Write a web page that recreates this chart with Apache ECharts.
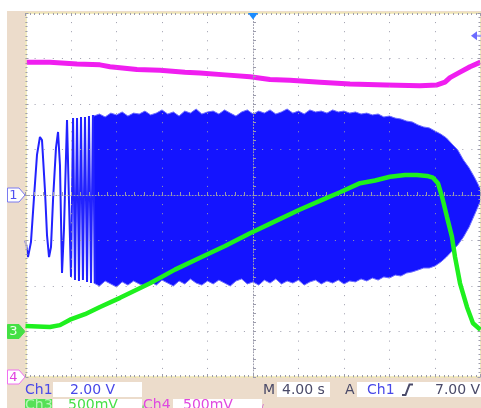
<!DOCTYPE html>
<html><head><meta charset="utf-8">
<script src="https://cdn.jsdelivr.net/npm/echarts@6/dist/echarts.min.js"></script>
<style>html,body{margin:0;padding:0;background:#fff}#c{width:481px;height:408px}</style>
</head><body><div id="c"></div>
<script>
// ---- scope settings (per division) ----
const timeScale = 4.0;            // s/div
const ch1Scale = 2.0, ch3Scale = 0.5, ch4Scale = 0.5;   // V/div
const ch1Ground = 0, ch3Ground = -3, ch4Ground = -4;    // divisions from centre
const triggerLevel = 7.0;         // V on Ch1

// ---- Ch1: resolved low-frequency start of the sweep (s, V) ----
const ch1EarlyT = [-20.0,-19.78,-19.52,-19.25,-18.99,-18.73,-18.55,-18.29,-18.11,-17.93,-17.76,-17.58,-17.32,-17.14,-16.97,-16.79,-16.62,-16.35,-16.18,-16.00,-15.82,-15.65,-15.47,-15.30,-15.12,-14.95,-14.77,-14.59,-14.42,-14.24,-14.07,-13.89];
const ch1EarlyV = [-2.0,-2.73,-2.07,-0.09,1.76,2.55,2.42,0.22,-1.76,-2.73,-2.29,-0.22,2.07,2.77,1.32,-3.43,-1.54,3.30,-0.22,-3.60,3.38,-3.74,3.38,-3.78,3.43,-3.74,3.43,-3.82,3.47,-3.87,3.52,-3.87];

// ---- Ch1: dense part, upper / lower envelope (s, V) ----
const ch1EnvT = [-14,-13.5,-13,-12.5,-12,-11.5,-11,-10.5,-10,-9.5,-9,-8.5,-8,-7.5,-7,-6.5,-6,-5.5,-5,-4.5,-4,-3.5,-3,-2.5,-2,-1.5,-1,-0.5,0,0.5,1,1.5,2,2.5,3,3.5,4,4.5,5,5.5,6,6.5,7,7.5,8,8.5,9,9.5,10,10.5,11,11.5,12,12.5,13,13.5,14,14.5,15,15.5,16,16.5,17,17.5,18,18.5,19,19.5,20];
const ch1UpperV = [3.47,3.56,3.43,3.60,3.52,3.65,3.47,3.60,3.56,3.69,
  3.52,3.60,3.74,3.56,3.65,3.47,3.69,3.60,3.78,3.56,
  3.65,3.69,3.56,3.74,3.60,3.47,3.65,3.74,3.56,3.69,
  3.60,3.74,3.56,3.65,3.78,3.60,3.69,3.56,3.74,3.65,
  3.69,3.60,3.74,3.65,3.69,3.60,3.65,3.56,3.60,3.52,
  3.56,3.43,3.47,3.38,3.34,3.25,3.21,3.08,2.99,2.95,
  2.81,2.68,2.51,2.24,1.98,1.54,1.19,0.75,0.26];
const ch1LowerV = [-3.87,-4.00,-3.78,-3.91,-4.04,-3.82,-3.96,-3.78,-3.91,-4.00,
  -3.82,-3.96,-3.74,-3.87,-4.00,-3.78,-3.91,-3.69,-3.87,-3.96,
  -3.78,-3.91,-3.74,-3.87,-4.00,-3.78,-3.69,-3.91,-3.82,-3.96,
  -3.74,-3.87,-3.69,-3.91,-3.78,-3.87,-3.74,-3.96,-3.82,-3.74,
  -3.91,-3.78,-3.87,-3.74,-3.91,-3.78,-3.82,-3.69,-3.78,-3.65,
  -3.74,-3.60,-3.65,-3.52,-3.56,-3.43,-3.38,-3.30,-3.21,-3.21,
  -3.12,-2.95,-2.73,-2.46,-2.20,-1.85,-1.41,-0.84,-0.26];

// ---- Ch3 (s, V) ----
const ch3T = [-20.0,-17.85,-16.97,-16.09,-14.77,-13.45,-11.69,-9.05,-6.86,-4.66,-2.46,-0.26,1.93,4.13,6.33,7.65,9.41,10.73,12.04,13.36,14.42,15.30,15.82,16.26,16.62,17.05,17.49,17.76,18.20,18.81,19.34,20.0];
const ch3V = [0.06,0.05,0.07,0.13,0.19,0.27,0.37,0.53,0.68,0.81,0.94,1.08,1.21,1.34,1.46,1.53,1.63,1.66,1.70,1.72,1.72,1.71,1.69,1.63,1.48,1.26,1.04,0.82,0.53,0.27,0.09,0.02];

// ---- Ch4 (s, V) ----
const ch4T = [-20.0,-17.85,-15.47,-13.45,-12.57,-10.20,-8.18,-5.98,-4.66,-2.46,-0.26,1.49,3.25,5.89,8.53,11.70,14.68,16.18,16.88,17.32,18.20,19.08,20.0];
const ch4V = [3.46,3.46,3.44,3.43,3.41,3.38,3.37,3.35,3.34,3.32,3.30,3.27,3.26,3.24,3.22,3.21,3.20,3.21,3.24,3.29,3.35,3.41,3.46];

// ---- readout texts ----
const readCh1 = ['Ch1', '2.00 V'];
const readTime = ['M', '4.00 s'];
const readTrig = ['A', 'Ch1', '7.00 V'];
const readCh3 = ['Ch3', '500mV'];
const readCh4 = ['Ch4', '500mV'];

const chart = echarts.init(document.getElementById('c'), null, {renderer:'canvas'});
const G = '#9c9cac', BORDER = '#efe6b2';
const ax = {type:'value', min:-20, max:20, interval:timeScale, axisLabel:{show:false}, splitLine:{show:false}};
const ay = {type:'value', min:-4, max:4, interval:1, axisLabel:{show:false}, splitLine:{show:false}};
const tk = (len) => ({show:true, inside:true, length:len, lineStyle:{color:G, width:1}});
const mt = (n, len) => ({show:true, splitNumber:n, length:len, lineStyle:{color:G, width:1}});
const toDiv = (T, V, s, g) => T.map((t, i) => [t, V[i] / s + g]);
const BANDC = '#1414ff';

chart.setOption({
  animation:false,
  backgroundColor:'#ecdccb',
  grid:{left:25.5, top:13, width:455, height:364, show:true, backgroundColor:'#ffffff', borderWidth:0, containLabel:false, outerBoundsMode:'none'},
  xAxis:[
    Object.assign({}, ax, {position:'bottom', z:3,
      axisLine:{show:true, onZero:true, lineStyle:{color:G, type:[1,2.03]}},
      axisTick:tk(3), minorTick:mt(5,3),
      splitLine:{show:true, lineStyle:{color:G, width:1, type:[1,8.1]}}}),
    Object.assign({}, ax, {position:'top', z:3,
      axisLine:{show:true, onZero:false, lineStyle:{color:BORDER, width:1.5}},
      axisTick:tk(3), minorTick:mt(10,2)}),
    Object.assign({}, ax, {position:'bottom', z:3,
      axisLine:{show:true, onZero:false, lineStyle:{color:BORDER, width:1.5}},
      axisTick:tk(3), minorTick:mt(10,2)})
  ],
  yAxis:[
    Object.assign({}, ay, {position:'left', z:3,
      axisLine:{show:true, onZero:true, lineStyle:{color:G, type:[1,2.03]}},
      axisTick:tk(3), minorTick:mt(5,3),
      splitLine:{show:true, lineStyle:{color:G, width:1, type:[1,8.1]}}}),
    Object.assign({}, ay, {position:'left', z:3,
      axisLine:{show:true, onZero:false, lineStyle:{color:BORDER, width:1.5}},
      axisTick:tk(3), minorTick:mt(10,2)}),
    Object.assign({}, ay, {position:'right', z:3,
      axisLine:{show:true, onZero:false, lineStyle:{color:BORDER, width:1.5}},
      axisTick:tk(3), minorTick:mt(10,2)})
  ],
  series:[
    {type:'line', name:'Ch4', silent:true, symbol:'none', z:2,
     data:toDiv(ch4T, ch4V, ch4Scale, ch4Ground),
     lineStyle:{color:'#f01ef0', width:5}},
    {type:'custom', name:'Ch1 band', silent:true, z:2, clip:true,
     data:ch1EnvT.map((t, i) => [t, ch1UpperV[i] / ch1Scale + ch1Ground, ch1LowerV[i] / ch1Scale + ch1Ground]),
     encode:{x:0, y:[1, 2]},
     renderItem:function (params, api) {
       // one closed polygon: upper envelope left->right, lower envelope right->left
       if (params.dataIndexInside !== 0) return null;
       const n = params.dataInsideLength, pts = [];
       for (let k = 0; k < n; k++) pts.push(api.coord([api.value(0, k), api.value(1, k)]));
       for (let k = n - 1; k >= 0; k--) pts.push(api.coord([api.value(0, k), api.value(2, k)]));
       return {type:'polygon', shape:{points:pts}, style:{fill:BANDC}};
     }},
    {type:'line', name:'Ch1 upper edge', silent:true, symbol:'none', z:2,
     data:toDiv(ch1EnvT, ch1UpperV, ch1Scale, ch1Ground),
     lineStyle:{color:'#6e6eff', width:1}},
    {type:'line', name:'Ch1 lower edge', silent:true, symbol:'none', z:2,
     data:toDiv(ch1EnvT, ch1LowerV, ch1Scale, ch1Ground),
     lineStyle:{color:'#6e6eff', width:1}},
    {type:'line', name:'Ch1', silent:true, symbol:'none', z:2,
     data:toDiv(ch1EarlyT, ch1EarlyV, ch1Scale, ch1Ground),
     lineStyle:{color:'#2222ff', width:2}},
    {type:'line', name:'Ch3', silent:true, symbol:'none', z:5,
     data:toDiv(ch3T, ch3V, ch3Scale, ch3Ground),
     lineStyle:{color:'#1ef01e', width:4.5}}
  ]
});

const py = v => chart.convertToPixel({xAxisIndex:0, yAxisIndex:0}, [0, v])[1];
const px = t => chart.convertToPixel({xAxisIndex:0, yAxisIndex:0}, [t, 0])[0];
const yG1 = py(ch1Ground), yG3 = py(ch3Ground), yG4 = py(ch4Ground);
const yTrig = py(triggerLevel / ch1Scale + ch1Ground);
const xT0 = px(0);
const FONT = '14px "DejaVu Sans"';

function marker(y, label, fill, stroke, txt) {
  return {type:'group', z:20, children:[
    {type:'polygon', shape:{points:[[7.5,y-7],[19,y-7],[25,y],[19,y+7],[7.5,y+7]]}, style:{fill:fill, stroke:stroke, lineWidth:1}},
    {type:'text', x:13.5, y:y+0.5, style:{text:label, fill:txt, font:'13px "DejaVu Sans"', align:'center', verticalAlign:'middle'}}
  ]};
}
function txt(x, y, s, color) {
  return {type:'text', x:x, y:y, z:21, style:{text:s, fill:color, font:FONT, align:'left', verticalAlign:'middle'}};
}
function box(x, y, w, h, color) {
  return {type:'rect', z:20, shape:{x:x, y:y, width:w, height:h}, style:{fill:color||'#ffffff'}};
}
function bw(x, y, color) {
  return {type:'group', z:21, children:[
    {type:'text', x:x, y:y, style:{text:'B', fill:color, font:'8px "DejaVu Sans"', verticalAlign:'top'}},
    {type:'text', x:x+5, y:y+4, style:{text:'W', fill:color, font:'7px "DejaVu Sans"', verticalAlign:'top'}}
  ]};
}
const BLUE = '#4848e8', DARK = '#4a4a68', GREEN = '#46e046', MAG = '#e048e0';
const r1 = 390.5, r2 = 405.5;

chart.setOption({graphic:[
  {type:'rect', z:1, shape:{x:0, y:0, width:481, height:11}, style:{fill:'#ffffff'}},
  {type:'rect', z:1, shape:{x:0, y:0, width:7, height:408}, style:{fill:'#ffffff'}},
  marker(yG1, '1', '#ffffff', '#7a7af0', '#5050f0'),
  marker(yG3, '3', '#44e044', '#44e044', '#eaffea'),
  marker(yG4, '4', '#ffffff', '#f070f0', '#e040e0'),
  {type:'polygon', z:20, shape:{points:[[xT0-5,13],[xT0+5,13],[xT0,19.5]]}, style:{fill:'#1c8cff'}},
  {type:'polygon', z:20, shape:{points:[[471,yTrig],[477,yTrig-4.5],[477,yTrig+4.5]]}, style:{fill:'#6b6bff'}},
  {type:'rect', z:20, shape:{x:477, y:yTrig-1, width:4, height:2}, style:{fill:'#a0a0ff'}},
  // row 1
  box(53, 382, 89, 15), box(277, 382, 53, 15), box(357, 382, 124, 15),
  txt(25, r1, readCh1[0], BLUE), txt(70, r1, readCh1[1], BLUE), bw(128, 384, '#7070e0'),
  txt(263, r1, readTime[0], DARK), txt(282, r1, readTime[1], DARK),
  txt(345, r1, readTrig[0], DARK), txt(367, r1, readTrig[1], BLUE),
  {type:'polyline', z:21, shape:{points:[[402,395],[405.5,395],[409.5,384.5],[413,384.5]]}, style:{stroke:DARK, lineWidth:2, fill:null}},
  txt(435, r1, readTrig[2], DARK),
  // row 2
  box(25, 399, 27, 9, '#56e056'), box(53, 399, 89, 9), box(173, 399, 89, 9),
  txt(25, r2, readCh3[0], '#b4f7b4'), txt(68, r2, readCh3[1], GREEN), bw(133, 400, '#60d060'),
  txt(143, r2, readCh4[0], MAG), txt(183, r2, readCh4[1], MAG), bw(252, 400, '#d060d0')
]});
</script></body></html>
